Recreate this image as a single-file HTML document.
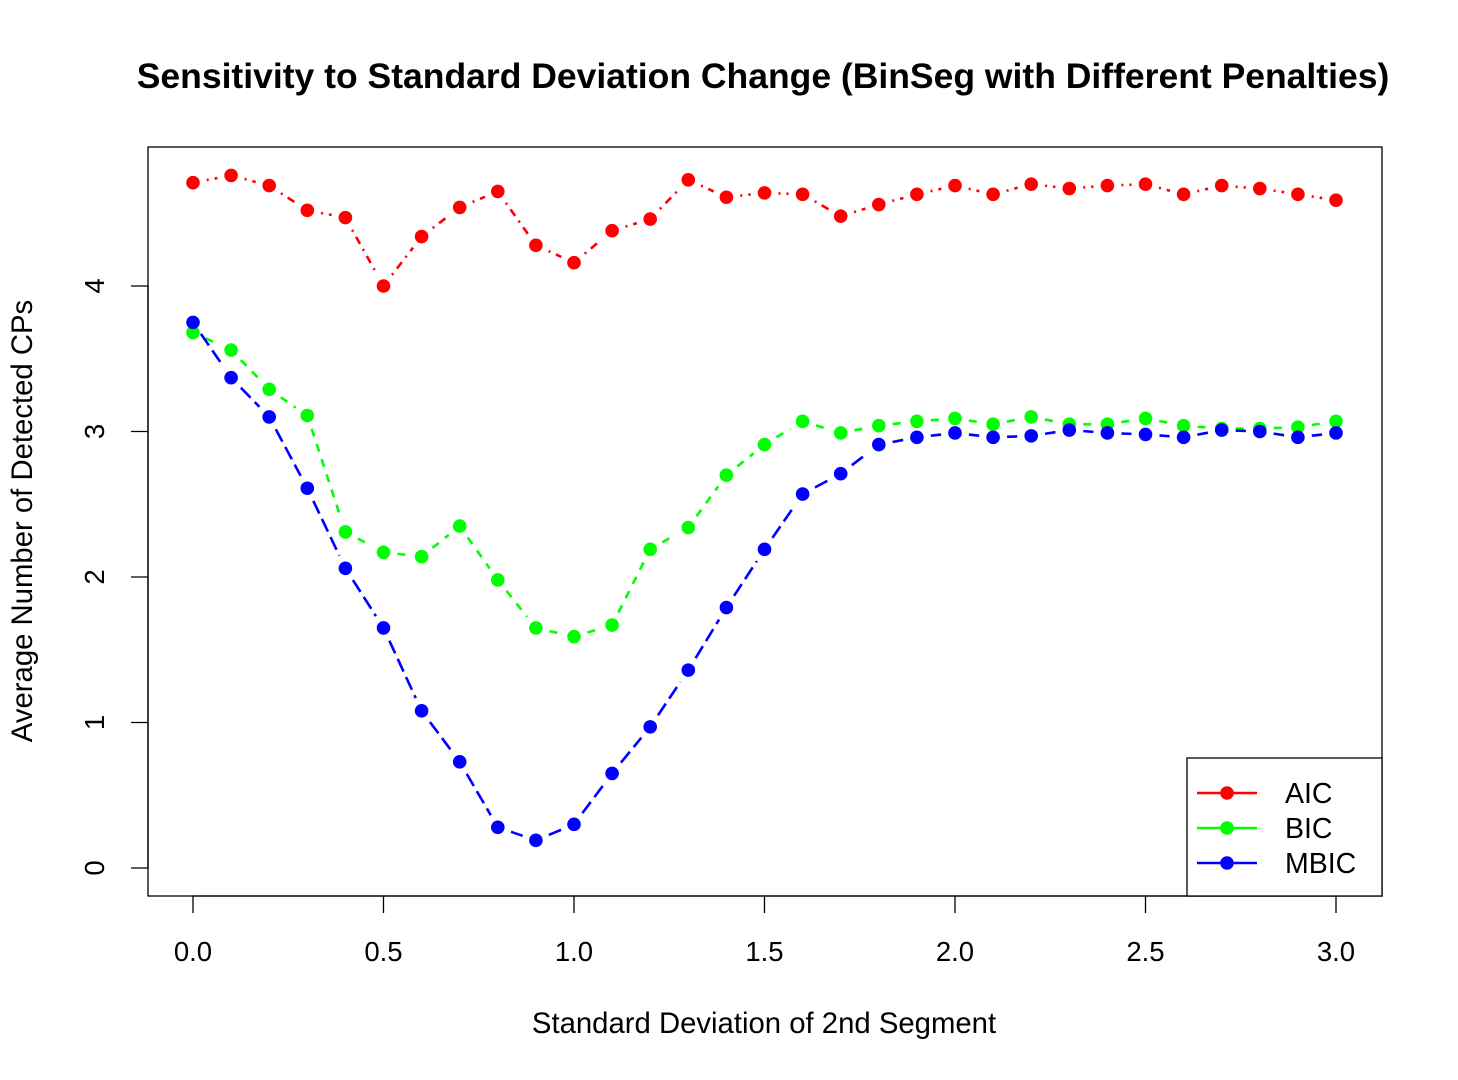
<!DOCTYPE html>
<html><head><meta charset="utf-8"><style>
body{margin:0;background:#fff}
svg{display:block;font-family:"Liberation Sans",Arial,sans-serif}
</style></head><body>
<svg id="chart" width="1458" height="1080" viewBox="0 0 1458 1080">
<rect width="1458" height="1080" fill="#fff"/>
<text x="763" y="88" text-anchor="middle" font-size="35.5" font-weight="bold">Sensitivity to Standard Deviation Change (BinSeg with Different Penalties)</text>
<rect x="148" y="147" width="1234" height="749" fill="none" stroke="#000" stroke-width="1.3"/>
<g id="xaxis"></g>
<g id="yaxis"></g>
<text x="764" y="1033" text-anchor="middle" font-size="29.3">Standard Deviation of 2nd Segment</text>
<text transform="translate(32,521) rotate(-90)" text-anchor="middle" font-size="29.3">Average Number of Detected CPs</text>
<g id="series"></g>
<g>
<rect x="1187" y="758" width="195" height="138" fill="#fff" stroke="#000" stroke-width="1.3"/>
<g id="legend"></g>
</g>
</svg>
<script>
const xs = [0,0.1,0.2,0.3,0.4,0.5,0.6,0.7,0.8,0.9,1.0,1.1,1.2,1.3,1.4,1.5,1.6,1.7,1.8,1.9,2.0,2.1,2.2,2.3,2.4,2.5,2.6,2.7,2.8,2.9,3.0];
const aic = [4.71,4.76,4.69,4.52,4.47,4.0,4.34,4.54,4.65,4.28,4.16,4.38,4.46,4.73,4.61,4.64,4.63,4.48,4.56,4.63,4.69,4.63,4.70,4.67,4.69,4.70,4.63,4.69,4.67,4.63,4.59];
const bic = [3.68,3.56,3.29,3.11,2.31,2.17,2.14,2.35,1.98,1.65,1.59,1.67,2.19,2.34,2.70,2.91,3.07,2.99,3.04,3.07,3.09,3.05,3.10,3.05,3.05,3.09,3.04,3.02,3.02,3.03,3.07];
const mbic = [3.75,3.37,3.10,2.61,2.06,1.65,1.08,0.73,0.28,0.19,0.30,0.65,0.97,1.36,1.79,2.19,2.57,2.71,2.91,2.96,2.99,2.96,2.97,3.01,2.99,2.98,2.96,3.01,3.00,2.96,2.99];
const xTicks = ["0.0","0.5","1.0","1.5","2.0","2.5","3.0"];
const yTicks = ["0","1","2","3","4"];
const seriesNames = ["AIC","BIC","MBIC"];
const seriesColors = ["#ff0000","#00ff00","#0000ff"];
const seriesDash = ["2,6,8,6","8,8","14,6"];

const NS="http://www.w3.org/2000/svg";
const X=v=>193+v*381;
const Y=v=>868-v*145.5;
function mk(tag,attrs,parent){const e=document.createElementNS(NS,tag);for(const k in attrs)e.setAttribute(k,attrs[k]);parent.appendChild(e);return e;}
const xa=document.getElementById('xaxis'), ya=document.getElementById('yaxis');
mk('line',{x1:X(0),x2:X(3),y1:896,y2:896,stroke:'#000','stroke-width':1.3},xa);
xTicks.forEach(t=>{const v=parseFloat(t);
 const l=mk('line',{x1:X(v),x2:X(v),y1:896,y2:913,stroke:'#000','stroke-width':1.3},xa);
 
 
 const tx=mk('text',{x:X(v),y:961,'text-anchor':'middle','font-size':27.5},xa);tx.textContent=t;
 
 
});
mk('line',{x1:148,x2:148,y1:Y(0),y2:Y(4),stroke:'#000','stroke-width':1.3},ya);
yTicks.forEach(t=>{const v=parseFloat(t);
 const l=mk('line',{x1:131,x2:148,y1:Y(v),y2:Y(v),stroke:'#000','stroke-width':1.3},ya);
 
 
 const tx=mk('text',{transform:`translate(104,${Y(v)}) rotate(-90)`,'text-anchor':'middle','font-size':27.5},ya);tx.textContent=t;
 
 
});
const sg=document.getElementById('series');
[aic,bic,mbic].forEach((data,si)=>{
 const c=seriesColors[si];
 const g=mk('g',{},sg);
 
 
 for(let i=0;i<data.length-1;i++){
  const x1=X(xs[i]),y1=Y(data[i]),x2=X(xs[i+1]),y2=Y(data[i+1]);
  const dx=x2-x1,dy=y2-y1,L=Math.hypot(dx,dy),gap=14;
  if(L>2*gap){const ux=dx/L,uy=dy/L;
   const s=mk('line',{x1:x1+ux*gap,y1:y1+uy*gap,x2:x2-ux*gap,y2:y2-uy*gap,stroke:c,'stroke-width':2.6,'stroke-dasharray':seriesDash[si]},g);
   
   }
 }
 data.forEach((v,i)=>{
  const p=mk('circle',{cx:X(xs[i]),cy:Y(v),r:6.8,fill:c},g);
  
  
 });
});
const lg=document.getElementById('legend');
seriesNames.forEach((n,i)=>{
 const y=793+i*35;
 const e=mk('g',{},lg);
 
 
 mk('line',{x1:1197,x2:1257,y1:y,y2:y,stroke:seriesColors[i],'stroke-width':2.6},e);
 mk('circle',{cx:1227,cy:y,r:6.8,fill:seriesColors[i]},e);
 const t=mk('text',{x:1285,y:y+10,'font-size':28.5},e);t.textContent=n;
});
</script>
</body></html>
